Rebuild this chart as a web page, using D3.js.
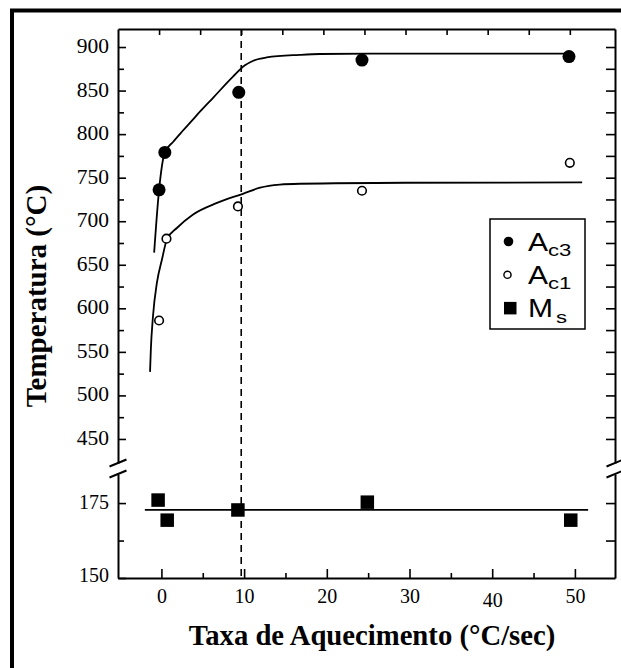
<!DOCTYPE html>
<html>
<head>
<meta charset="utf-8">
<script src="https://cdn.jsdelivr.net/npm/d3@7"></script>
<style>
  body { margin: 0; background: #fff; }
  svg { display: block; }
</style>
</head>
<body>
<svg id="chart" width="621" height="668"></svg>
<script>
// Heating rate (°C/s) against transformation temperatures (°C)
const ac3Rate = [0, 0.7, 9.7, 24.7, 49.9];
const ac3Temp = [736, 779, 848, 885, 889];
const ac1Rate = [0, 0.9, 9.6, 24.7, 50];
const ac1Temp = [586, 680, 717, 735, 767];
const msRate = [-0.4, 0.7, 9.25, 24.9, 49.5];
const msTemp = [176, 169.3, 172.7, 175.3, 169.3];

// Fitted trend curves
const ac3FitRate = [-0.6, 0, 0.7, 1.7, 2.8, 4.0, 5.0, 6.6, 9.0, 10.45, 11.4, 13.1, 17.1, 19.6, 30, 40, 50.3];
const ac3FitTemp = [664, 736, 779, 791, 803, 815.5, 826, 842, 866, 879, 884, 888, 891, 892, 892.5, 892.5, 892.5];
const ac1FitRate = [-1.1, -1.0, -0.75, -0.25, 0.35, 0.95, 2.2, 4.1, 7.05, 10.2, 12.3, 14.7, 17.1, 30, 51.5];
const ac1FitTemp = [527, 553, 590, 630, 656, 679, 692.5, 707.5, 721, 731.5, 738.5, 742, 743, 744.2, 744.5];
const msFitRate = [-2.0, 51.6];
const msFitTemp = [172.7, 172.7];
const refRate = 10;   // dashed reference line

// Axis ticks
const xTicks = [0, 10, 20, 30, 40, 50];
const xMinorTicks = [5, 15, 25, 35, 45];
const upperTicks = [450, 500, 550, 600, 650, 700, 750, 800, 850, 900];
const upperMinorTicks = [475, 525, 575, 625, 675, 725, 775, 825, 875];
const lowerTicks = [150, 175];
const lowerMinorTicks = [162.5];

const legendItems = [
  { base: "A", sub: "c3", shape: "filled" },
  { base: "A", sub: "c1", shape: "open" },
  { base: "M", sub: "s", shape: "square" }
];

const zip = (xs, ys) => xs.map((x, i) => [x, ys[i]]);

const svg = d3.select("#chart");
const serif = "'Liberation Serif', 'Times New Roman', serif";
const sans = "'Liberation Sans', Arial, sans-serif";
const ink = "#000";

const plot = { left: 118, right: 615, top: 29, bottom: 578, breakHi: 463, breakLo: 474 };

// Upper and lower panels of the broken axis
const xTop = d3.scaleLinear().domain([-5, 55.5]).range([plot.left, plot.right]);
const xBottom = d3.scaleLinear().domain([-5.25, 54.85]).range([plot.left, plot.right]);
const yUpper = d3.scaleLinear().domain([422.4, 920.7]).range([plot.breakHi, plot.top]);
const yLower = d3.scaleLinear().domain([150, 184.7]).range([plot.bottom, plot.breakLo]);

// Outer frame
svg.append("rect")
  .attr("x", 12).attr("y", 10.5)
  .attr("width", 720).attr("height", 720)
  .attr("fill", "none").attr("stroke", ink).attr("stroke-width", 4);

function styleAxis(g, keepDomain, size) {
  if (keepDomain) g.select(".domain").attr("stroke", ink).attr("stroke-width", 2);
  else g.select(".domain").remove();
  g.selectAll(".tick line").attr("stroke", ink).attr("stroke-width", 1.6);
  g.attr("font-family", null).attr("font-size", null);
  g.selectAll("text")
    .attr("fill", ink)
    .style("font-family", serif)
    .style("font-size", (size || 20) + "px");
}

// Bottom axis
const gBottom = svg.append("g").attr("transform", `translate(0,${plot.bottom})`)
  .call(d3.axisBottom(xBottom).tickValues(xTicks).tickSizeInner(-9).tickSizeOuter(0));
styleAxis(gBottom, true, 20);
gBottom.selectAll("text").attr("dy", 0).attr("y", d => d === 40 ? 29 : 25);
svg.append("g").attr("transform", `translate(0,${plot.bottom})`)
  .call(d3.axisBottom(xBottom).tickValues(xMinorTicks).tickSizeInner(-5).tickSizeOuter(0).tickFormat(""))
  .call(g => styleAxis(g, false));

// Top axis
svg.append("g").attr("transform", `translate(0,${plot.top})`)
  .call(d3.axisTop(xTop).tickValues(xTicks.concat(xMinorTicks)).tickSizeInner(-6).tickSizeOuter(0).tickFormat(""))
  .call(g => styleAxis(g, true));

// Left axis, upper panel
const gLeftU = svg.append("g").attr("transform", `translate(${plot.left},0)`)
  .call(d3.axisLeft(yUpper).tickValues(upperTicks).tickSizeInner(-8).tickSizeOuter(0));
styleAxis(gLeftU, true, 21.5);
gLeftU.selectAll("text").attr("x", -9).attr("dy", 0).attr("y", 5.5);
svg.append("g").attr("transform", `translate(${plot.left},0)`)
  .call(d3.axisLeft(yUpper).tickValues(upperMinorTicks).tickSizeInner(-6).tickSizeOuter(0).tickFormat(""))
  .call(g => styleAxis(g, false));

// Left axis, lower panel
const gLeftL = svg.append("g").attr("transform", `translate(${plot.left},0)`)
  .call(d3.axisLeft(yLower).tickValues(lowerTicks).tickSizeInner(-8).tickSizeOuter(0));
styleAxis(gLeftL, true, 20);
gLeftL.selectAll("text").attr("x", -9).attr("dy", 0).attr("y", d => d === 150 ? 3 : 5.5);
svg.append("g").attr("transform", `translate(${plot.left},0)`)
  .call(d3.axisLeft(yLower).tickValues(lowerMinorTicks).tickSizeInner(-6).tickSizeOuter(0).tickFormat(""))
  .call(g => styleAxis(g, false));

// Right axis, both panels
svg.append("g").attr("transform", `translate(${plot.right},0)`)
  .call(d3.axisRight(yUpper).tickValues(upperTicks.concat(upperMinorTicks)).tickSizeInner(-9).tickSizeOuter(0).tickFormat(""))
  .call(g => styleAxis(g, true));
svg.append("g").attr("transform", `translate(${plot.right},0)`)
  .call(d3.axisRight(yLower).tickValues(lowerTicks.concat(lowerMinorTicks).filter(v => v > 150)).tickSizeInner(-9).tickSizeOuter(0).tickFormat(""))
  .call(g => styleAxis(g, true));

// Break marks
const breakMarks = [];
[plot.left, plot.right].forEach(x => [plot.breakHi, plot.breakLo].forEach(y => breakMarks.push({ x, y })));
svg.append("g").selectAll("line").data(breakMarks).join("line")
  .attr("x1", d => d.x - 8.5).attr("y1", d => d.y + 3.5)
  .attr("x2", d => d.x + 8.5).attr("y2", d => d.y - 3.5)
  .attr("stroke", ink).attr("stroke-width", 2);

// Dashed reference line
svg.append("line")
  .attr("x1", xTop(refRate)).attr("x2", xTop(refRate))
  .attr("y1", plot.top).attr("y2", plot.bottom)
  .attr("stroke", ink).attr("stroke-width", 1.6).attr("stroke-dasharray", "7,5");

// Fitted curves
const upperLine = d3.line().x(d => xTop(d[0])).y(d => yUpper(d[1])).curve(d3.curveMonotoneX);
const lowerLine = d3.line().x(d => xBottom(d[0])).y(d => yLower(d[1]));
const curves = svg.append("g").attr("fill", "none").attr("stroke", ink).attr("stroke-width", 1.8);
curves.append("path").attr("d", upperLine(zip(ac3FitRate, ac3FitTemp)));
curves.append("path").attr("d", upperLine(zip(ac1FitRate, ac1FitTemp)));
curves.append("path").attr("d", lowerLine(zip(msFitRate, msFitTemp)));

// Data points
svg.append("g").selectAll("circle").data(zip(ac3Rate, ac3Temp)).join("circle")
  .attr("cx", d => xTop(d[0])).attr("cy", d => yUpper(d[1])).attr("r", 6.5)
  .attr("fill", ink);
svg.append("g").selectAll("circle").data(zip(ac1Rate, ac1Temp)).join("circle")
  .attr("cx", d => xTop(d[0])).attr("cy", d => yUpper(d[1])).attr("r", 4.3)
  .attr("fill", "#fff").attr("stroke", ink).attr("stroke-width", 1.6);
const sq = 13.5;
svg.append("g").selectAll("rect").data(zip(msRate, msTemp)).join("rect")
  .attr("x", d => xBottom(d[0]) - sq / 2).attr("y", d => yLower(d[1]) - sq / 2)
  .attr("width", sq).attr("height", sq).attr("fill", ink);

// Legend
const legend = svg.append("g").attr("transform", "translate(490,219)");
legend.append("rect").attr("width", 95).attr("height", 110)
  .attr("fill", "#fff").attr("stroke", ink).attr("stroke-width", 1.5);
const rows = legend.selectAll("g.row").data(legendItems).join("g")
  .attr("class", "row")
  .attr("transform", (d, i) => `translate(0,${22.5 + i * 33.3})`);
rows.each(function (d) {
  const g = d3.select(this);
  if (d.shape === "filled") g.append("circle").attr("cx", 18.5).attr("r", 4.8).attr("fill", ink);
  else if (d.shape === "open") g.append("circle").attr("cx", 17.5).attr("r", 3.6)
    .attr("fill", "#fff").attr("stroke", ink).attr("stroke-width", 1.4);
  else g.append("rect").attr("x", 14).attr("y", -6.2).attr("width", 12.5).attr("height", 12.5).attr("fill", ink);
  g.append("text").attr("transform", "translate(38,9) scale(1.2,1)")
    .style("font-family", sans).style("font-size", "25px").attr("fill", ink).text(d.base);
  g.append("text").attr("transform", `translate(${d.base === "M" ? 66 : 58},14.5) scale(1.3,1)`)
    .style("font-family", sans).style("font-size", "17px").attr("fill", ink).text(d.sub);
});

// Axis titles
svg.append("text")
  .attr("x", 372).attr("y", 645)
  .attr("text-anchor", "middle")
  .style("font-family", serif).style("font-weight", "bold").style("font-size", "28.7px")
  .attr("fill", ink)
  .text("Taxa de Aquecimento (°C/sec)");
svg.append("text")
  .attr("transform", "translate(46,296) rotate(-90)")
  .attr("text-anchor", "middle")
  .style("font-family", serif).style("font-weight", "bold").style("font-size", "29px")
  .attr("fill", ink)
  .text("Temperatura (°C)");
</script>
</body>
</html>
